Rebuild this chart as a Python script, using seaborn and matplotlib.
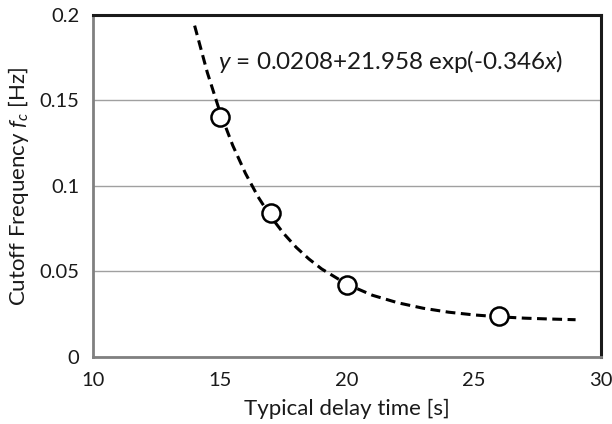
import numpy as np
import pandas as pd
import matplotlib
matplotlib.use("Agg")
import matplotlib.pyplot as plt
import seaborn as sns
from matplotlib.ticker import MultipleLocator

# measured points
delay_time = [15, 17, 20, 26]
cutoff_freq = [0.140, 0.084, 0.042, 0.024]

# fitted curve
curve_x = [14, 14.5, 15, 15.5, 16, 16.5, 17, 17.5, 18, 18.5, 19, 20, 21, 22, 23, 24, 25, 26, 27, 28, 29]
curve_y = [0.1937, 0.1663, 0.1431, 0.1237, 0.1074, 0.0936, 0.0820, 0.0723, 0.0641, 0.0573,
           0.0515, 0.0425, 0.0361, 0.0317, 0.0285, 0.0262, 0.0246, 0.0235, 0.0227, 0.0222, 0.0218]

fit_label = r"$y$ = 0.0208+21.958 exp(-0.346$x$)"

pts = pd.DataFrame({"t": delay_time, "fc": cutoff_freq})
fit = pd.DataFrame({"t": curve_x, "fc": curve_y})

sns.set_style("white")
plt.rcParams["font.family"] = ["Lato", "DejaVu Sans"]
plt.rcParams["mathtext.fontset"] = "custom"
plt.rcParams["mathtext.it"] = "Lato:italic"
plt.rcParams["mathtext.rm"] = "Lato"

fig, ax = plt.subplots(figsize=(6.12, 4.24), dpi=100)
fig.subplots_adjust(left=0.152, right=0.982, top=0.965, bottom=0.158)

sns.lineplot(data=fit, x="t", y="fc", ax=ax, color="black", lw=2.2,
             linestyle=(0, (3.2, 1.8)), zorder=3)
sns.scatterplot(data=pts, x="t", y="fc", ax=ax, s=170, facecolor="white",
                edgecolor="black", linewidth=1.8, zorder=4)

ax.set_xlim(10, 30)
ax.set_ylim(0, 0.2)
ax.xaxis.set_major_locator(MultipleLocator(5))
ax.yaxis.set_minor_locator(MultipleLocator(0.025))
ax.set_yticks([0, 0.05, 0.1, 0.15, 0.2])
ax.set_yticklabels(["0", "0.05", "0.1", "0.15", "0.2"])

ax.grid(axis="y", color="#a0a0a0", lw=1)
ax.set_axisbelow(True)

for s in ["top", "right"]:
    ax.spines[s].set_color("#1a1a1a")
    ax.spines[s].set_linewidth(2.2)
for s in ["left", "bottom"]:
    ax.spines[s].set_color("#808080")
    ax.spines[s].set_linewidth(2.0)

ax.tick_params(axis="both", which="major", direction="inout", length=8,
               color="#a0a0a0", width=1, labelsize=14.5, labelcolor="#1a1a1a")
ax.tick_params(axis="x", which="major", pad=7)
ax.tick_params(axis="y", which="major", pad=6)
ax.tick_params(axis="y", which="minor", direction="in", length=4, color="#a0a0a0", width=1)

ax.set_xlabel("Typical delay time [s]", fontsize=16, color="#1a1a1a", labelpad=7)
ax.set_ylabel(r"Cutoff Frequency $f_c$ [Hz]", fontsize=16, color="#1a1a1a", labelpad=6)

ax.text(14.92, 0.1725, fit_label, fontsize=17.5, color="#1a1a1a", va="center", ha="left")

fig.savefig("out.png", dpi=100)
